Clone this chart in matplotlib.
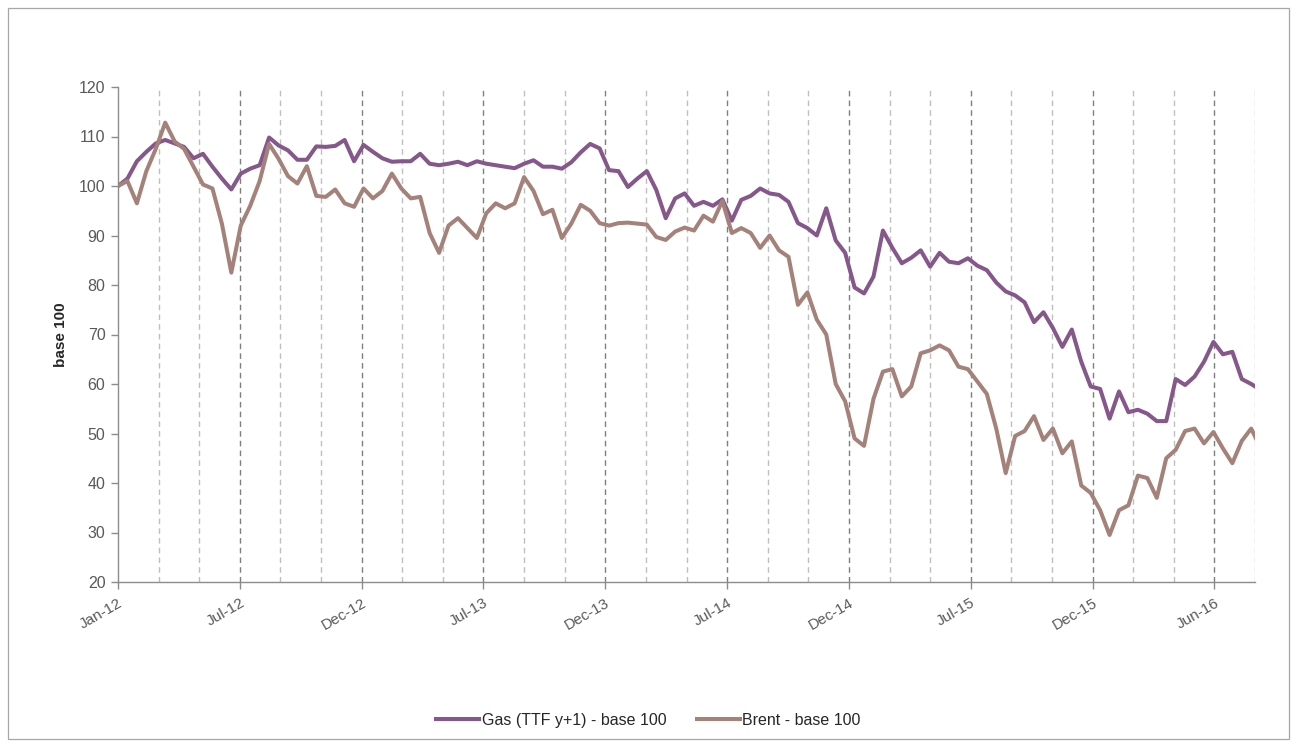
import matplotlib
matplotlib.use("Agg")
import matplotlib.pyplot as plt
from matplotlib.patches import Rectangle
import numpy as np

plt.rcParams['font.family'] = ['Liberation Sans Narrow', 'Liberation Sans', 'DejaVu Sans']

# Fortnightly observations (every 10 business days from early January 2012)
gas_ttf = [
    100.0, 101.5, 105.0, 106.9, 108.6, 109.3, 108.6, 107.9, 105.6, 106.5,
    103.9, 101.5, 99.3, 102.5, 103.5, 104.2, 109.8, 108.2, 107.2, 105.3,
    105.3, 108.0, 107.9, 108.1, 109.3, 105.0, 108.3, 106.9, 105.6, 104.9,
    105.0, 105.0, 106.5, 104.5, 104.2, 104.5, 104.9, 104.2, 105.0, 104.5,
    104.2, 103.9, 103.6, 104.5, 105.2, 103.9, 103.9, 103.5, 104.8, 106.8,
    108.5, 107.6, 103.2, 103.0, 99.8, 101.5, 103.0, 99.2, 93.5, 97.5,
    98.5, 96.0, 96.8, 96.0, 97.3, 93.0, 97.2, 98.0, 99.5, 98.5,
    98.2, 96.8, 92.5, 91.5, 90.0, 95.5, 89.0, 86.5, 79.5, 78.3,
    81.7, 91.0, 87.5, 84.4, 85.5, 87.0, 83.7, 86.5, 84.7, 84.4,
    85.4, 83.9, 83.0, 80.5, 78.7, 77.9, 76.5, 72.5, 74.5, 71.3,
    67.5, 71.0, 64.5, 59.5, 59.0, 53.0, 58.5, 54.3, 54.8, 54.0,
    52.5, 52.5, 61.0, 59.8, 61.5, 64.5, 68.5, 66.0, 66.5, 61.0,
    60.0, 58.8,
]

brent = [
    100.0, 101.0, 96.5, 103.0, 107.5, 112.8, 109.0, 107.5, 103.9, 100.3,
    99.5, 92.4, 82.5, 92.0, 96.0, 101.0, 108.5, 105.5, 102.0, 100.5,
    104.0, 98.0, 97.8, 99.3, 96.5, 95.8, 99.5, 97.5, 99.0, 102.5,
    99.5, 97.5, 97.8, 90.5, 86.5, 92.0, 93.5, 91.5, 89.5, 94.5,
    96.5, 95.5, 96.5, 101.8, 99.0, 94.3, 95.2, 89.5, 92.4, 96.2,
    95.0, 92.5, 92.0, 92.5, 92.6, 92.4, 92.2, 89.7, 89.1, 90.8,
    91.6, 91.0, 94.0, 92.8, 97.0, 90.5, 91.5, 90.5, 87.5, 90.0,
    87.0, 85.7, 76.0, 78.5, 73.0, 70.0, 60.0, 56.5, 49.0, 47.5,
    57.0, 62.5, 63.0, 57.5, 59.5, 66.2, 66.8, 67.8, 66.8, 63.5,
    63.0, 60.5, 58.0, 51.0, 42.0, 49.5, 50.5, 53.5, 48.7, 51.0,
    46.0, 48.4, 39.5, 38.0, 34.5, 29.5, 34.5, 35.5, 41.5, 41.0,
    37.0, 45.0, 46.7, 50.5, 51.0, 48.0, 50.3, 47.0, 44.0, 48.5,
    51.0, 47.0,
]

step_days = 10
tick_labels = ['Jan-12', 'Jul-12', 'Dec-12', 'Jul-13', 'Dec-13',
               'Jul-14', 'Dec-14', 'Jul-15', 'Dec-15', 'Jun-16']
major_every = 129   # business days between labelled ticks
minor_every = 43    # business days between grid lines
x_end = 1204

gas_color = '#85578A'
brent_color = '#A4827A'
axis_gray = '#8C8C8C'
text_gray = '#595959'

fig = plt.figure(figsize=(12.97, 7.47), dpi=100)
fig.patch.set_facecolor('white')
fig.patches.append(Rectangle((8 / 1297, 8 / 747), 1281 / 1297, 731 / 747,
                             transform=fig.transFigure, fill=False,
                             edgecolor='#A6A6A6', linewidth=0.9))

ax = fig.add_axes([118 / 1297, 1 - 582 / 747, 1137 / 1297, 495 / 747])

x_gas = np.arange(len(gas_ttf)) * step_days
x_brent = np.arange(len(brent)) * step_days

# vertical dashed grid lines: light at minor positions, darker at labelled ones
for xg in range(minor_every, x_end + 1, minor_every):
    is_major = (xg % major_every == 0)
    ax.axvline(xg, color='#7F7F7F' if is_major else '#BFBFBF',
               linestyle=(0, (4, 3)), linewidth=1.0, zorder=1)

ax.plot(x_gas, gas_ttf, color=gas_color, linewidth=2.9,
        label='Gas (TTF y+1) - base 100', zorder=3, solid_joinstyle='round')
ax.plot(x_brent, brent, color=brent_color, linewidth=2.9,
        label='Brent - base 100', zorder=3, solid_joinstyle='round')

ax.set_xlim(0, x_end)
ax.set_ylim(20, 120)

ax.set_yticks(np.arange(20, 121, 10))
ax.tick_params(axis='y', colors=axis_gray, labelcolor=text_gray,
               labelsize=11.5, length=5, width=1, direction='out', pad=4)

major_pos = [k * major_every for k in range(len(tick_labels))]
ax.set_xticks(major_pos)
ax.set_xticklabels(tick_labels, rotation=30, ha='right', va='top',
                   rotation_mode='anchor')
ax.tick_params(axis='x', colors=axis_gray, labelcolor=text_gray,
               labelsize=11, length=5, width=1, direction='out', pad=5)

for side in ('top', 'right'):
    ax.spines[side].set_visible(False)
for side in ('left', 'bottom'):
    ax.spines[side].set_color(axis_gray)
    ax.spines[side].set_linewidth(1.0)

ax.set_ylabel('base 100', fontsize=11, fontweight='bold', color='#262626',
              labelpad=8)

fig.legend(loc='center', bbox_to_anchor=(0.5, 0.036), ncol=2, frameon=False,
           fontsize=11.5, handlelength=2.7, handletextpad=0.15,
           columnspacing=1.9, labelcolor='#262626')

fig.savefig('out.png', dpi=100, facecolor='white')
